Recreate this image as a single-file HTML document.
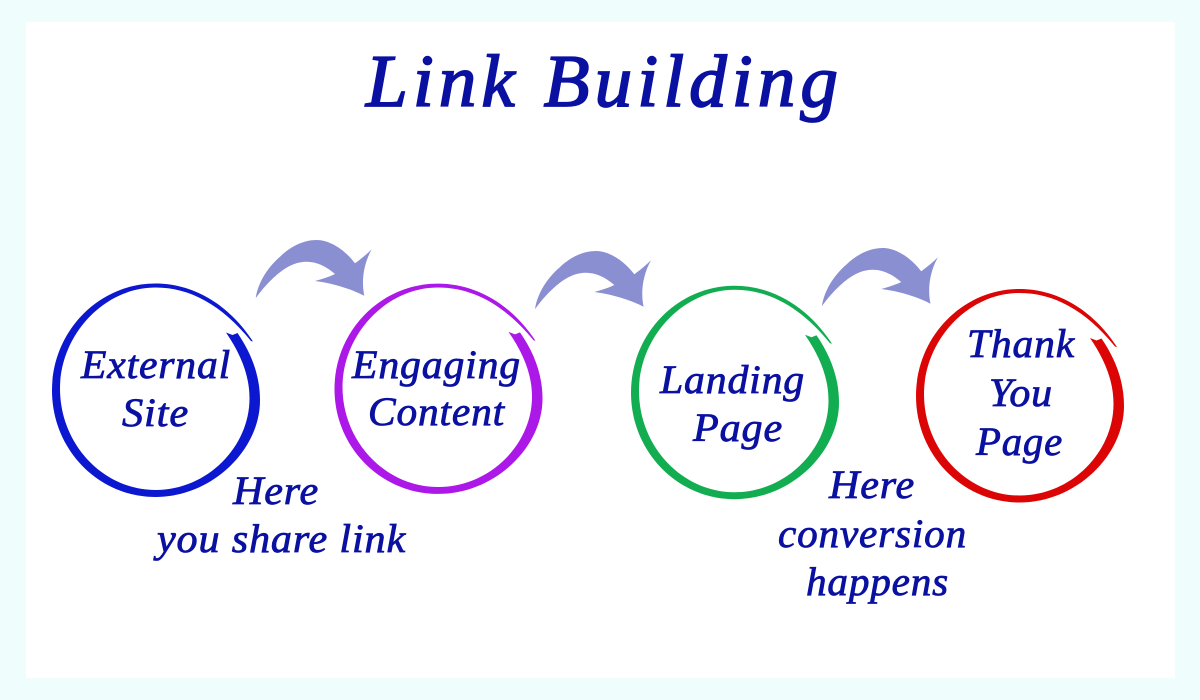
<!DOCTYPE html>
<html>
<head>
<meta charset="utf-8">
<style>
html,body{margin:0;padding:0;background:#effdfd;}
svg{display:block;}
text{font-family:"Liberation Serif",serif;font-style:italic;font-weight:400;fill:#0a10a0;stroke:#0a10a0;stroke-width:.8px;font-size:40px;letter-spacing:.8px;}
.t{font-size:74px;stroke-width:1.7px;letter-spacing:5px;}
</style>
</head>
<body>
<svg width="1200" height="700" viewBox="0 0 1200 700" xmlns="http://www.w3.org/2000/svg">
<defs>
<path id="ring" d="M97.500 -49C72 -88 36 -107 0 -107C-57 -107 -103.500 -59 -103.500 0C-103.500 59 -57 106.500 0 106.500C57 106.500 104.500 59 104.500 10C104.500 -15 96 -37 82 -57.500L77 -55.500L70.500 -58C85.500 -36 94 -15 94 8C94 56 52 99.500 0 99.500C-52 99.500 -95.500 54 -95.500 -2C-95.500 -55 -52 -103 0 -103C34 -103 66 -86 95.500 -49.500Z"/>
<path id="arrow" d="M255.700 298.300C258 281 270 265 280 256.700C291 246 304 240 316.700 240C330 240 345 250 355 263.300C361 259 367 254 371.700 249.300C364 263 361 280 364.300 295.700C349 288 331 283 315 281C322 279 329 277 335 274C326 266 316 261.700 306.700 261.700C298 261.700 290 265 283 270C273 277 262 289 255.700 298.300Z"/>
</defs>
<rect x="26" y="22" width="1149" height="656" fill="#ffffff"/>

<use href="#arrow" fill="#8a8fd2"/>
<use href="#arrow" transform="translate(279.300 11)" fill="#8a8fd2"/>
<use href="#arrow" transform="translate(566.200 8)" fill="#8a8fd2"/>

<use href="#ring" transform="translate(155.500 390.500)" fill="#0b18d0"/>
<use href="#ring" transform="translate(438 389) scale(1 .985)" fill="#ac18e8"/>
<use href="#ring" transform="translate(734.500 392.700)" fill="#12ad50"/>
<use href="#ring" transform="translate(1019.500 396)" fill="#dc0505"/>

<text class="t" x="366" y="106" textLength="477" lengthAdjust="spacingAndGlyphs">Link Building</text>

<text x="81" y="378" textLength="150" lengthAdjust="spacingAndGlyphs">External</text>
<text x="122" y="426" textLength="67" lengthAdjust="spacingAndGlyphs">Site</text>

<text x="352" y="378" textLength="169" lengthAdjust="spacingAndGlyphs">Engaging</text>
<text x="368" y="425" textLength="137" lengthAdjust="spacingAndGlyphs">Content</text>

<text x="660" y="393" textLength="145" lengthAdjust="spacingAndGlyphs">Landing</text>
<text x="693" y="441" textLength="90" lengthAdjust="spacingAndGlyphs">Page</text>

<text x="967" y="357" textLength="108" lengthAdjust="spacingAndGlyphs">Thank</text>
<text x="989" y="406" textLength="64" lengthAdjust="spacingAndGlyphs">You</text>
<text x="976" y="455" textLength="87" lengthAdjust="spacingAndGlyphs">Page</text>

<text x="233" y="504" textLength="86" lengthAdjust="spacingAndGlyphs">Here</text>
<text x="157" y="552" textLength="249" lengthAdjust="spacingAndGlyphs">you share link</text>

<text x="829" y="498" textLength="86" lengthAdjust="spacingAndGlyphs">Here</text>
<text x="778" y="547" textLength="189" lengthAdjust="spacingAndGlyphs">conversion</text>
<text x="806" y="595" textLength="143" lengthAdjust="spacingAndGlyphs">happens</text>
</svg>
</body>
</html>
